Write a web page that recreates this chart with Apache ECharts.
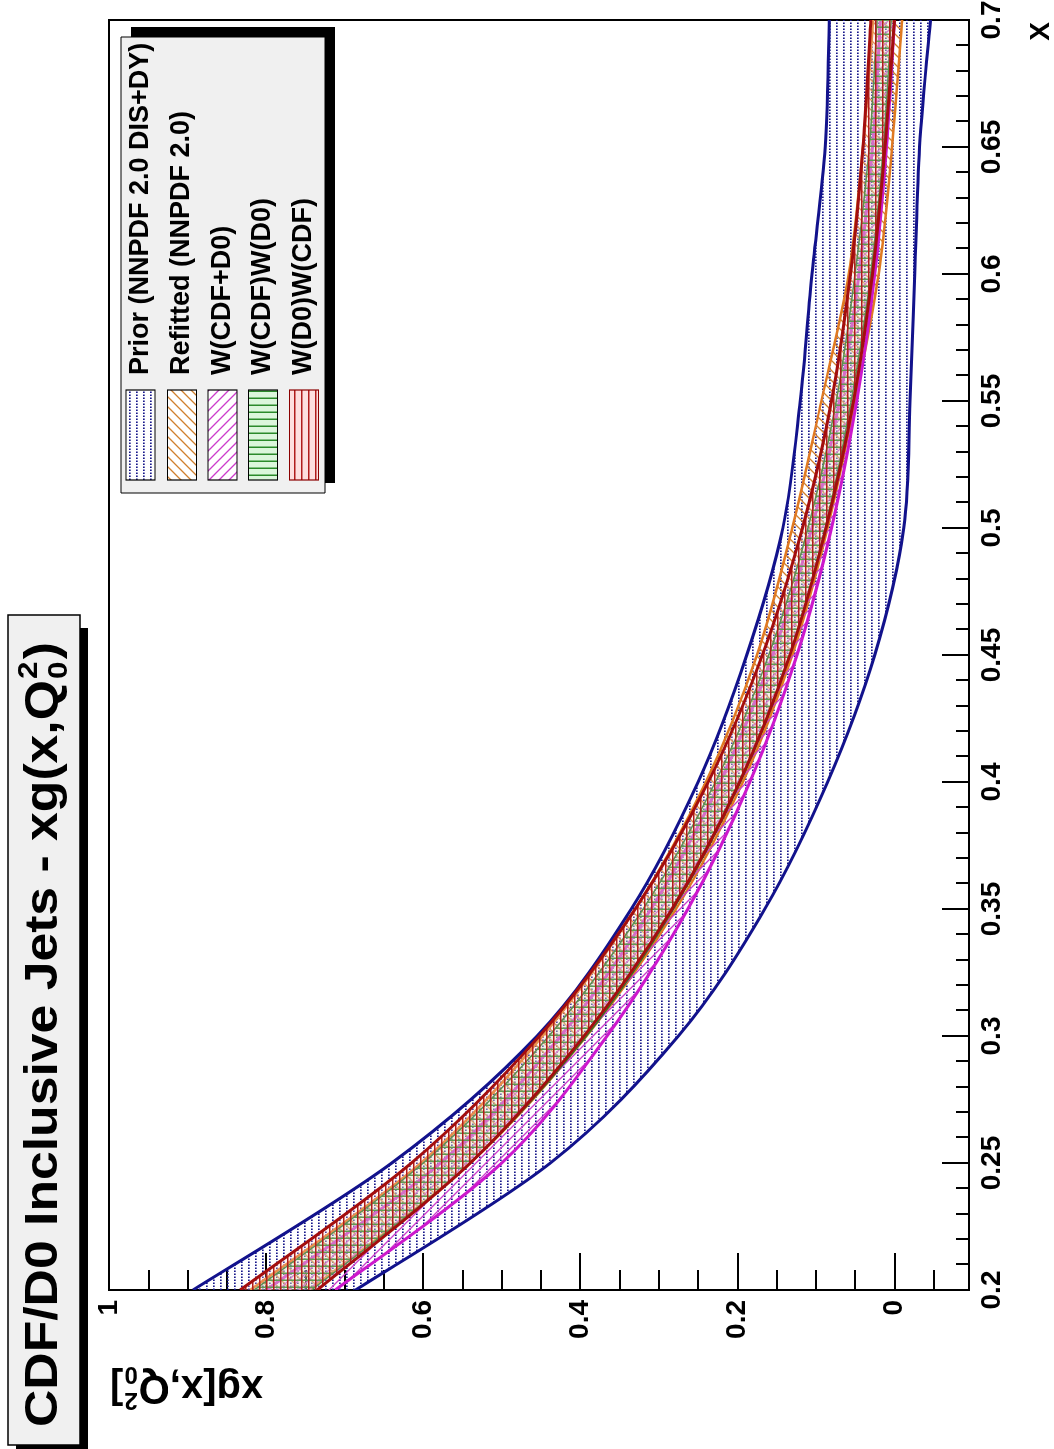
<!DOCTYPE html>
<html><head><meta charset="utf-8">
<script src="https://cdn.jsdelivr.net/npm/echarts@6/dist/echarts.min.js"></script>
<style>
html,body{margin:0;padding:0;background:#fff;width:1054px;height:1449px;overflow:hidden}
#wrap{position:absolute;left:0;top:0;width:1449px;height:1054px;transform-origin:0 0;transform:translate(0px,1449px) rotate(-90deg);background:#fff}
</style></head><body><div id="wrap"></div>
<script>
// ---------------- data ----------------
const xValues = [0.2, 0.25, 0.3, 0.35, 0.4, 0.45, 0.5, 0.55, 0.6, 0.65, 0.7];
const priorUpper  = [0.893, 0.64, 0.455, 0.335, 0.25, 0.188, 0.142, 0.12, 0.105, 0.088, 0.083];
const priorLower  = [0.686, 0.438, 0.275, 0.165, 0.085, 0.025, -0.012, -0.02, -0.026, -0.032, -0.046];
const refitUpper  = [0.82, 0.603, 0.448, 0.33, 0.24, 0.175, 0.13, 0.093, 0.058, 0.04, 0.027];
const refitLower  = [0.745, 0.54, 0.392, 0.278, 0.193, 0.13, 0.085, 0.05, 0.02, 0.003, -0.01];
const wCombUpper  = [0.80, 0.578, 0.425, 0.31, 0.222, 0.155, 0.105, 0.07, 0.045, 0.028, 0.018];
const wCombLower  = [0.712, 0.50, 0.366, 0.263, 0.184, 0.124, 0.08, 0.048, 0.025, 0.01, 0.0];
const wCdfD0Upper = [0.815, 0.60, 0.44, 0.32, 0.228, 0.16, 0.11, 0.074, 0.05, 0.032, 0.022];
const wCdfD0Lower = [0.742, 0.54, 0.392, 0.281, 0.196, 0.133, 0.088, 0.055, 0.03, 0.014, 0.004];
const wD0CdfUpper = [0.833, 0.615, 0.452, 0.33, 0.237, 0.168, 0.117, 0.08, 0.056, 0.04, 0.03];
const wD0CdfLower = [0.735, 0.54, 0.395, 0.283, 0.197, 0.133, 0.087, 0.052, 0.028, 0.012, 0.0];

const xTickLabels = ['0.2','0.25','0.3','0.35','0.4','0.45','0.5','0.55','0.6','0.65','0.7'];
const yTickValues = [0, 0.2, 0.4, 0.6, 0.8, 1];
const yTickLabels = ['0', '0.2', '0.4', '0.6', '0.8', '1'];
const yMinorTickValues = [-0.05,0.05,0.1,0.15,0.25,0.3,0.35,0.45,0.5,0.55,0.65,0.7,0.75,0.85,0.9,0.95];
const legendLabels = ['Prior (NNPDF 2.0 DIS+DY)', 'Refitted (NNPDF 2.0)', 'W(CDF+D0)', 'W(CDF)W(D0)', 'W(D0)W(CDF)'];
const titleMain = 'CDF/D0 Inclusive Jets - xg(x,Q';
const yTitleMain = 'xg[x,Q';
const xTitle = 'X';

// ---------------- styles ----------------
const FONT = '"Liberation Sans", Arial, Helvetica, sans-serif';
function makePattern(w, h, bg, draw) {
  const c = document.createElement('canvas'); c.width = w; c.height = h;
  const g = c.getContext('2d');
  if (bg) { g.fillStyle = bg; g.fillRect(0, 0, w, h); }
  draw(g, w, h);
  return { image: c, repeat: 'repeat' };
}
const patPrior = makePattern(3, 7, null, g => { g.fillStyle = '#16168a'; g.fillRect(0, 3, 1.5, 1.7); });
const patRefit = makePattern(10, 10, null, g => {
  g.strokeStyle = '#d0802e'; g.lineWidth = 1.3; g.beginPath();
  g.moveTo(0, 10); g.lineTo(10, 0); g.moveTo(-5, 5); g.lineTo(5, -5); g.moveTo(5, 15); g.lineTo(15, 5); g.stroke();
});
const patComb = makePattern(10, 10, null, g => {
  g.strokeStyle = '#cc3ccc'; g.lineWidth = 1.3; g.beginPath();
  g.moveTo(0, 0); g.lineTo(10, 10); g.moveTo(-5, 5); g.lineTo(5, 15); g.moveTo(5, -5); g.lineTo(15, 5); g.stroke();
});
const patGreen = makePattern(7, 7, 'rgba(190,240,190,0.25)', g => { g.fillStyle = '#2a8a2a'; g.fillRect(0, 0, 1.5, 7); });
const patRed = makePattern(7, 7, 'rgba(255,205,205,0.25)', g => { g.fillStyle = '#b01c1c'; g.fillRect(0, 0, 7, 1.5); });

const bands = [
  { name: 'prior', lo: priorLower, hi: priorUpper, color: '#12128c', width: 3, pat: patPrior },
  { name: 'refit', lo: refitLower, hi: refitUpper, color: '#e07a22', width: 2.5, pat: patRefit },
  { name: 'wcomb', lo: wCombLower, hi: wCombUpper, color: '#cc18cc', width: 3, pat: patComb },
  { name: 'wcdfd0', lo: wCdfD0Lower, hi: wCdfD0Upper, color: '#2a7a2a', width: 1.5, pat: patGreen },
  { name: 'wd0cdf', lo: wD0CdfLower, hi: wD0CdfUpper, color: '#a30e0e', width: 3, pat: patRed }
];

// smooth path through pixel points (Catmull-Rom -> cubic Bezier)
function curveSegs(p) {
  let d = '';
  for (let i = 0; i < p.length - 1; i++) {
    const p0 = p[i - 1] || p[i], p1 = p[i], p2 = p[i + 1], p3 = p[i + 2] || p[i + 1];
    const c1x = p1[0] + (p2[0] - p0[0]) / 6, c1y = p1[1] + (p2[1] - p0[1]) / 6;
    const c2x = p2[0] - (p3[0] - p1[0]) / 6, c2y = p2[1] - (p3[1] - p1[1]) / 6;
    d += ' C' + c1x + ',' + c1y + ' ' + c2x + ',' + c2y + ' ' + p2[0] + ',' + p2[1];
  }
  return d;
}
function curvePath(p) { return 'M' + p[0][0] + ',' + p[0][1] + curveSegs(p); }

const series = bands.map((b, k) => ({
  type: 'custom', name: b.name, coordinateSystem: 'cartesian2d', clip: true, silent: true, animation: false,
  z: 2 + k,
  data: [[xValues[0], b.hi[0]]],
  renderItem: (params, api) => {
    const up = xValues.map((x, i) => api.coord([x, b.hi[i]]));
    const lo = xValues.map((x, i) => api.coord([x, b.lo[i]]));
    const loRev = lo.slice().reverse();
    const fillD = curvePath(up) + ' L' + loRev[0][0] + ',' + loRev[0][1] + curveSegs(loRev) + ' Z';
    return { type: 'group', children: [
      { type: 'path', shape: { pathData: fillD }, style: { fill: b.pat, stroke: 'none' } },
      { type: 'path', shape: { pathData: curvePath(up) }, style: { fill: 'none', stroke: b.color, lineWidth: b.width } },
      { type: 'path', shape: { pathData: curvePath(lo) }, style: { fill: 'none', stroke: b.color, lineWidth: b.width } }
    ]};
  }
}));

// ---------------- text measuring ----------------
const mctx = document.createElement('canvas').getContext('2d');
function tw(text, size) { mctx.font = 'bold ' + size + 'px ' + FONT; return mctx.measureText(text).width; }
function txt(x, y, text, size, align, extra) {
  return Object.assign({ type: 'text', x: x, y: y, z: 100,
    style: { text: text, font: 'bold ' + size + 'px ' + FONT, fill: '#000',
      align: align || 'left', verticalAlign: 'middle', textAlign: align || 'left', textVerticalAlign: 'middle' } }, extra || {});
}

// title group
const tS = 46, tSmall = 28;
const tW = tw(titleMain, tS), tSS = tw('2', tSmall), tP = tw(')', tS);
const titleTotal = tW + tSS + 3 + tP;
const titleGroup = { type: 'group', x: 22, y: 44, scaleX: 785 / titleTotal, z: 100, children: [
  txt(0, 0, titleMain, tS), txt(tW + 1, -15, '2', tSmall), txt(tW + 1, 15, '0', tSmall), txt(tW + tSS + 3, 0, ')', tS)
]};

// y title group (rotated)
const yS = 40, ySmall = 24;
const yW = tw(yTitleMain, yS), ySS = tw('2', ySmall), yB = tw(']', yS);
const yTot = yW + ySS + 2 + yB;
const y0 = -yTot;
const yTitleGroup = { type: 'group', x: 62, y: 110, rotation: Math.PI / 2, z: 100, children: [
  txt(y0, 0, yTitleMain, yS), txt(y0 + yW + 1, -13, '2', ySmall), txt(y0 + yW + 1, 13, '0', ySmall), txt(y0 + yW + ySS + 2, 0, ']', yS)
]};

// legend
const legRows = [140.5, 182, 222.5, 263, 304];
const legPats = [patPrior, patRefit, patComb, patGreen, patRed];
const legStroke = ['#000', '#000', '#000', '#000', '#8b0000'];
const legBg = ['#fff', '#fff', '#fff', '#e4f8e4', '#fde6e6'];
const legendEls = [
  { type: 'rect', z: 100, shape: { x: 966, y: 131, width: 456, height: 204 }, style: { fill: '#000' } },
  { type: 'rect', z: 100, shape: { x: 956, y: 121, width: 456, height: 204 }, style: { fill: '#f0f0f0', stroke: '#000', lineWidth: 1 } }
];
legendLabels.forEach((lab, i) => {
  const cy = legRows[i];
  legendEls.push({ type: 'rect', z: 100, shape: { x: 969, y: cy - 14.5, width: 90, height: 29 }, style: { fill: legBg[i] } });
  legendEls.push({ type: 'rect', z: 100, shape: { x: 969, y: cy - 14.5, width: 90, height: 29 }, style: { fill: legPats[i], stroke: legStroke[i], lineWidth: 1.2 } });
  legendEls.push(txt(1074, cy, lab, 27));
});

const graphics = [
  { type: 'rect', z: 100, shape: { x: -10, y: 16, width: 831, height: 72 }, style: { fill: '#000' } },
  { type: 'rect', z: 100, shape: { x: 4, y: 8, width: 830, height: 72 }, style: { fill: '#f0f0f0', stroke: '#000', lineWidth: 1.5 } },
  titleGroup,
  yTitleGroup,
  txt(1427, 1041, xTitle, 28, 'right')
].concat(legendEls);

const axisLineStyle = { color: '#000', width: 2 };
const labelStyle = { color: '#000', fontSize: 28, fontWeight: 'bold', fontFamily: FONT };

const option = {
  animation: false,
  backgroundColor: '#fff',
  grid: { left: 159, right: 20, top: 109, bottom: 85, show: true, borderColor: '#000', borderWidth: 2,
    backgroundColor: '#fff', containLabel: false, outerBoundsMode: 'none' },
  xAxis: { type: 'value', min: 0.2, max: 0.7, interval: 0.05,
    axisLine: { show: true, onZero: false, lineStyle: axisLineStyle },
    axisTick: { show: true, inside: true, length: 27, lineStyle: axisLineStyle },
    minorTick: { show: true, splitNumber: 5, length: 13, lineStyle: axisLineStyle },
    splitLine: { show: false }, minorSplitLine: { show: false },
    axisLabel: Object.assign({ margin: 9, showMinLabel: true, showMaxLabel: true,
      formatter: v => xTickLabels[Math.round((v - xValues[0]) / 0.05)] }, labelStyle) },
  yAxis: [
    { type: 'value', min: -0.095, max: 1, position: 'left',
      axisLine: { show: true, onZero: false, lineStyle: axisLineStyle },
      axisTick: { show: true, inside: true, length: 37, customValues: yTickValues, lineStyle: axisLineStyle },
      splitLine: { show: false },
      axisLabel: Object.assign({ margin: 10, customValues: yTickValues,
        formatter: v => yTickLabels[yTickValues.findIndex(t => Math.abs(t - v) < 1e-6)] }, labelStyle) },
    { type: 'value', min: -0.095, max: 1, position: 'left',
      axisLine: { show: false },
      axisTick: { show: true, inside: true, length: 20, customValues: yMinorTickValues, lineStyle: axisLineStyle },
      splitLine: { show: false }, axisLabel: { show: false } }
  ],
  series: series,
  graphic: graphics
};

const chart = echarts.init(document.getElementById('wrap'), null, { renderer: 'canvas', width: 1449, height: 1054 });
chart.setOption(option);
</script></body></html>
